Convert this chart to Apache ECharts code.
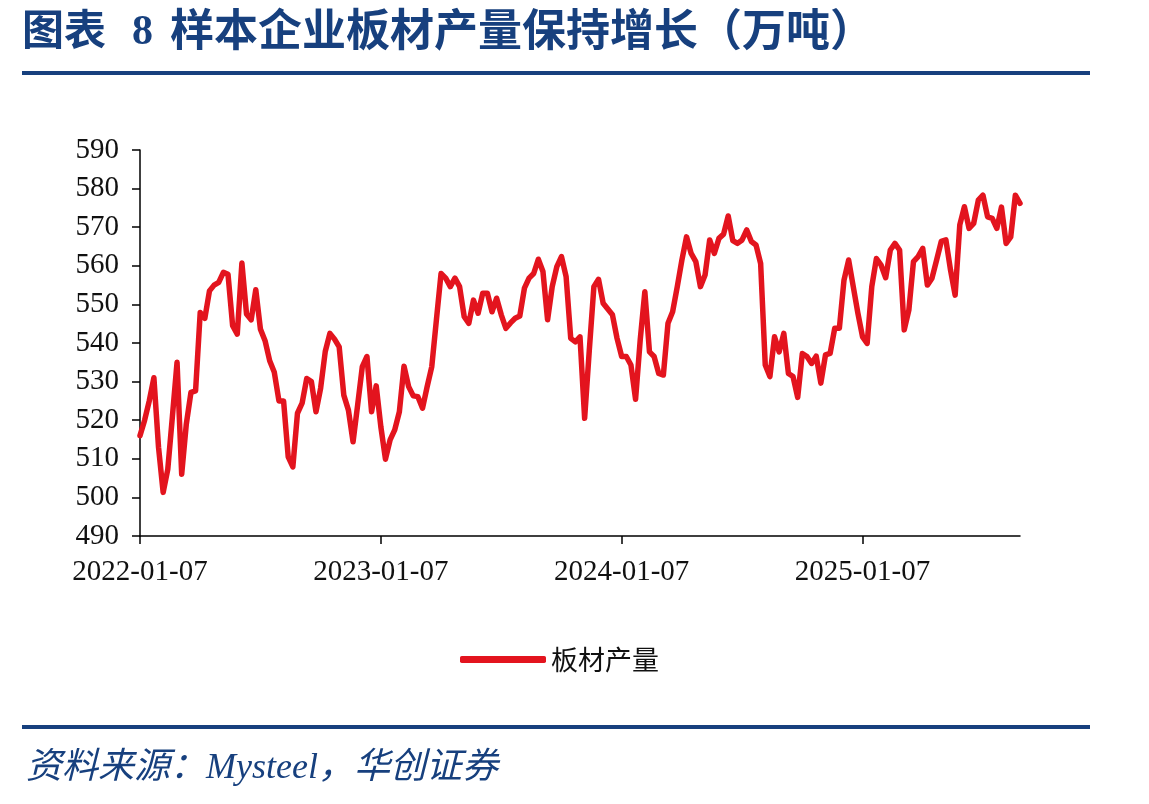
<!DOCTYPE html>
<html>
<head>
<meta charset="utf-8">
<title>样本企业板材产量</title>
<script src="https://cdn.jsdelivr.net/npm/echarts@6/dist/echarts.min.js"></script>
<style>
  html, body { margin: 0; padding: 0; background: #fff; }
  #chart { width: 1149px; height: 804px; }
</style>
</head>
<body>
<div id="chart"></div>
<script>
// 板材产量（万吨），周度，起于 2022-01-07
var seriesName = '板材产量';
var startDate = '2022-01-07';
var tickLabels = ['2022-01-07', '2023-01-07', '2024-01-07', '2025-01-07'];
var yTicks = [490, 500, 510, 520, 530, 540, 550, 560, 570, 580, 590];
var output = [
  516, 520, 525, 531, 513, 501.3, 507.3, 521, 535, 506,
  519, 527.2, 527.6, 547.9, 546.4, 553.5, 555, 555.7, 558.3, 557.8,
  544.5, 542.3, 560.7, 547.5, 546, 553.8, 543.6, 540.6, 535.4, 532.4,
  525, 525, 510.5, 507.9, 521.8, 524.4, 530.8, 530, 522.2, 528.3,
  537.8, 542.5, 541, 539, 526.5, 522.6, 514.4, 524, 533.9, 536.5,
  522.2, 528.9, 518.3, 509.9, 514.9, 517.5, 522.2, 534, 528.7, 526.3,
  526.1, 523.1, 528.7, 533.9, 546, 558, 556.8, 554.6, 556.8, 554.6,
  546.8, 545.1, 551.1, 547.7, 552.9, 552.9, 548.1, 551.6, 547.3, 543.8,
  545.2, 546.4, 547, 554.2, 556.8, 558, 561.7, 558.5, 546, 554.6,
  559.8, 562.4, 557.2, 541.2, 540.3, 541.6, 520.5, 538, 554.6, 556.5,
  550.3, 548.8, 547.3, 541.2, 536.5, 536.5, 534.3, 525.4, 540.8, 553.3,
  537.7, 536.5, 532.1, 531.7, 545.1, 548.1, 554.6, 561.5, 567.5, 563.2,
  561.1, 554.6, 557.6, 566.7, 563.2, 567.1, 568.2, 572.9, 566.5, 565.8,
  566.7, 569.3, 566.3, 565.4, 560.6, 534.3, 531.3, 541.6, 537.7, 542.5,
  532.1, 531.3, 525.9, 537.3, 536.5, 534.7, 536.6, 529.6, 536.9, 537.3,
  543.8, 543.8, 556.3, 561.5, 554.6, 547.7, 541.6, 539.9, 554.6, 561.9,
  560.2, 556.9, 564.1, 565.8, 564.1, 543.4, 548.5, 561.1, 562.4, 564.5,
  555, 556.8, 561.5, 566.3, 566.7, 558.9, 552.4, 570.6, 575.3, 569.7,
  571, 577, 578.3, 572.7, 572.3, 569.7, 575.2, 565.8, 567.5, 578.3,
  576.2
];

// 周度日期
var dates = [];
var d0 = new Date(startDate + 'T00:00:00Z');
for (var i = 0; i < output.length; i++) {
  var d = new Date(d0.getTime() + i * 7 * 86400000);
  dates.push(d.toISOString().slice(0, 10));
}

var navy = '#17407E';
var serif = "'Liberation Serif', 'Times New Roman', 'Noto Sans CJK SC', serif";
var cjk = "'Noto Sans CJK SC', sans-serif";

var myChart = echarts.init(document.getElementById('chart'));
var option = {
  animation: false,
  backgroundColor: '#fff',
  graphic: [
    { type: 'text', left: 22, top: 8,
      style: { text: '图表', fontSize: 42, fontWeight: 'bold', fill: navy, fontFamily: cjk } },
    { type: 'text', left: 132, top: 12,
      style: { text: '8', fontSize: 42, fontWeight: 'bold', fill: navy, fontFamily: serif } },
    { type: 'text', left: 170, top: 7,
      style: { text: '样本企业板材产量保持增长（万吨）', fontSize: 44, fontWeight: 'bold', fill: navy,
               fontFamily: cjk } },
    { type: 'line', shape: { x1: 22, y1: 73, x2: 1090, y2: 73 },
      style: { stroke: navy, lineWidth: 4 } },
    { type: 'line', shape: { x1: 22, y1: 727, x2: 1090, y2: 727 },
      style: { stroke: navy, lineWidth: 4 } },
    { type: 'text', left: 26, top: 751,
      style: { text: '资料来源：Mysteel，华创证券', fontSize: 36, fontStyle: 'italic', fill: navy,
               fontFamily: serif } }
  ],
  legend: {
    data: [seriesName],
    left: 455,
    top: 641,
    icon: 'roundRect',
    itemWidth: 86,
    itemHeight: 7,
    textStyle: { fontSize: 27, color: '#111', fontFamily: cjk }
  },
  grid: { left: 140, right: 129, top: 150, bottom: 268 },
  xAxis: {
    type: 'category',
    data: dates,
    boundaryGap: false,
    axisLine: { show: true, lineStyle: { color: '#000', width: 1.5 } },
    axisTick: {
      show: true, inside: false, length: 8,
      interval: function (idx) { return idx % 52 === 0; },
      lineStyle: { color: '#000', width: 1.5 }
    },
    axisLabel: {
      interval: function (idx) { return idx % 52 === 0; },
      formatter: function (v, idx) { return tickLabels[idx / 52]; },
      margin: 22,
      fontSize: 29,
      color: '#111',
      fontFamily: serif
    },
    splitLine: { show: false }
  },
  yAxis: {
    type: 'value',
    min: yTicks[0],
    max: yTicks[yTicks.length - 1],
    interval: 10,
    axisLine: { show: true, lineStyle: { color: '#000', width: 1.5 } },
    axisTick: { show: true, inside: false, length: 8, lineStyle: { color: '#000', width: 1.5 } },
    axisLabel: { margin: 21, fontSize: 29, color: '#111', fontFamily: serif },
    splitLine: { show: false }
  },
  series: [
    {
      name: seriesName,
      type: 'line',
      data: output,
      symbol: 'none',
      lineStyle: { color: '#E3141E', width: 5.5, join: 'round', cap: 'round' },
      itemStyle: { color: '#E3141E' }
    }
  ]
};
myChart.setOption(option);
</script>
</body>
</html>
